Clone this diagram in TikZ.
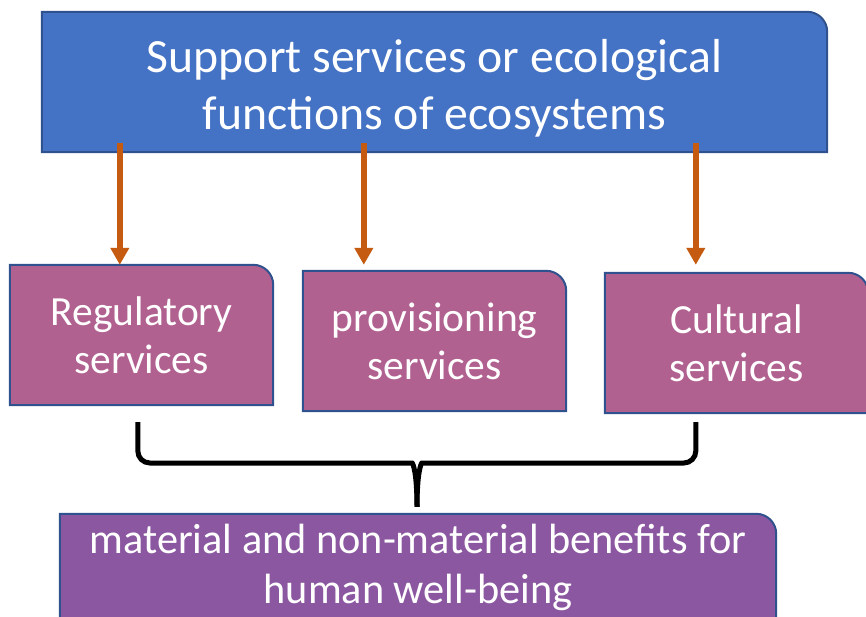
\documentclass[tikz,border=0pt]{standalone}
\usepackage{fontspec}
\setmainfont{Carlito}
\usetikzlibrary{arrows.meta,backgrounds}

\definecolor{topfill}{RGB}{68,114,196}
\definecolor{midfill}{RGB}{177,97,144}
\definecolor{lowfill}{RGB}{139,87,160}
\definecolor{edgeblue}{RGB}{47,82,143}
\definecolor{arroworange}{RGB}{197,90,17}

\tikzset{
	tab/.style={minimum width=263pt, minimum height=140pt, inner sep=0pt,
			text=white, align=center, font=\fontsize{41.5}{48}\selectfont},
	flow/.style={draw=arroworange, line width=5.5pt, -{Triangle[width=18pt,length=17pt]}},
	bracket/.style={line width=5pt}
}

% box with one rounded corner (top right)
\newcommand{\tabshape}[2]{%
	\filldraw[fill=#2, draw=edgeblue, line width=2pt]
		(#1.south west) -- (#1.north west) -- ([xshift=-20pt]#1.north east)
		arc[start angle=90, end angle=0, radius=20pt] -- (#1.south east) -- cycle;}

\begin{document}
\begin{tikzpicture}[x=1pt, y=-1pt]
		\useasboundingbox (0,0) rectangle (866,616);
		\clip (0,0) rectangle (866,616);

		% Boxes
		\node[tab, minimum width=785pt, font=\fontsize{47.7}{57}\selectfont] (support) at (434.5,82)
			{\rule{0pt}{46pt}Support services or ecological\\functions of ecosystems};
		\node[tab] (regulatory) at (141.5,335) {Regulatory\\services};
		\node[tab] (provisioning) at (434.5,341) {provisioning\\services};
		\node[tab] (cultural) at (736.5,343) {Cultural\\services};
		\node[tab, minimum width=716pt, minimum height=106pt, font=\fontsize{42.3}{50}\selectfont] (benefits) at (418,567)
			{material and non-material benefits for\\human well-being};

		% Fills behind the texts
		\begin{scope}[on background layer]
			\tabshape{support}{topfill}
			\foreach \n in {regulatory,provisioning,cultural} {
					\tabshape{\n}{midfill}
				}
			\tabshape{benefits}{lowfill}
		\end{scope}

		% Arrows
		\draw[flow] ([xshift=110pt]regulatory.north west |- support.south) ++(0,-9) -- ([xshift=110pt]regulatory.north west);
		\draw[flow] ([xshift=61pt]provisioning.north west |- support.south) ++(0,-9) -- ([xshift=61pt]provisioning.north west |- regulatory.north);
		\draw[flow] ([xshift=91pt]cultural.north west |- support.south) ++(0,-9) -- ([xshift=91pt]cultural.north west |- regulatory.north);

		% Bracket
		\coordinate (bl) at ([xshift=128pt,yshift=-17pt]regulatory.south west);
		\coordinate (br) at ([xshift=91pt,yshift=-9pt]cultural.south west);
		\coordinate (tip) at ([xshift=-1pt,yshift=7pt]benefits.north);
		\draw[bracket] (bl) [rounded corners=12pt] -- (bl |- 0,463) -- ([xshift=-17pt]tip |- 0,463)
			[sharp corners] .. controls ([xshift=-4pt]tip |- 0,463) and ([yshift=-10pt]tip |- 0,463) .. (tip);
		\draw[bracket] (br) [rounded corners=12pt] -- (br |- 0,463) -- ([xshift=17pt]tip |- 0,463)
			[sharp corners] .. controls ([xshift=4pt]tip |- 0,463) and ([yshift=-10pt]tip |- 0,463) .. (tip);
	\end{tikzpicture}
\end{document}
